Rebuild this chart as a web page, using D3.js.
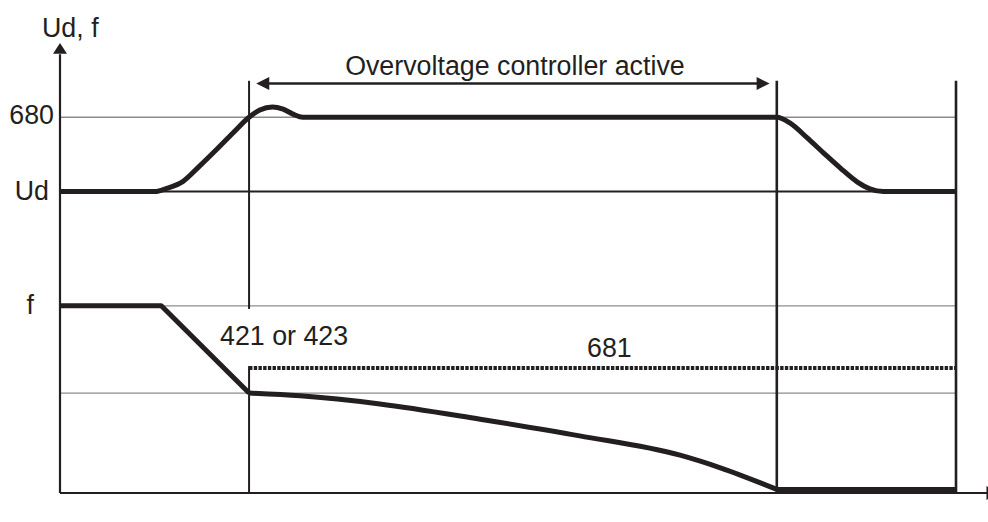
<!DOCTYPE html>
<html>
<head>
<meta charset="utf-8">
<script src="https://cdn.jsdelivr.net/npm/d3@7"></script>
<style>
  html, body { margin: 0; padding: 0; background: #fff; }
  svg { display: block; }
  text { font-family: "Liberation Sans", Arial, Helvetica, sans-serif; fill: #231f20; }
</style>
</head>
<body>
<svg id="chart" width="988" height="522"></svg>
<script>
// ---- data (abstract time / level units) ----
const udTime  = [0, 10.6, 11.9, 13.7, 15.6, 17.5, 19.3, 21.1, 22.3, 23.7, 24.9, 26.0, 27.1, 80, 81.5, 83.4, 85.2, 87.1, 89.0, 90.4, 91.9, 100];
const udValue = [67, 67, 67.7, 69.2, 72.7, 76.4, 80, 83.5, 85.1, 85.8, 85.3, 84.2, 83.5, 83.5, 82.2, 78.9, 75.6, 72.2, 69.1, 67.6, 67, 67];

const fTime  = [0, 11.3, 21.1, 26.8, 35.7, 46.9, 58.0, 69.2, 73.7, 80, 100];
const fValue = [41.6, 41.6, 22.2, 21.6, 19.8, 16.4, 12.7, 8.4, 5.6, 0.8, 0.8];

const levels = { p680: 83.5, ud: 67, f: 41.6, low: 22.2, p681: 27.8 };
const markerTimes = [21.1, 80, 100];
const activeSpan = [21.9, 79.2];
const yLabels = ["680", "Ud", "f"];
const axisTitle = "Ud, f";
const annotations = ["Overvoltage controller active", "421 or 423", "681"];

// ---- drawing ----
const ink = "#231f20", grey = "#8c8c8c";
const svg = d3.select("#chart");
const x = d3.scaleLinear().domain([0, 100]).range([60, 956]);
const y = d3.scaleLinear().domain([0, 100]).range([493, 43]);

function hline(v, t0, t1, color, w, dash) {
  const l = svg.append("line")
    .attr("x1", x(t0)).attr("x2", x(t1))
    .attr("y1", y(v)).attr("y2", y(v))
    .attr("stroke", color).attr("stroke-width", w);
  if (dash) l.attr("stroke-dasharray", dash);
  return l;
}
function vline(t, v0, v1, w) {
  return svg.append("line")
    .attr("x1", x(t)).attr("x2", x(t))
    .attr("y1", y(v0)).attr("y2", y(v1))
    .attr("stroke", ink).attr("stroke-width", w);
}

// reference lines
hline(levels.p680, 0, 100, grey, 1.3);
hline(levels.f, 0, 100, grey, 1.3);
hline(levels.low, 0, 100, grey, 1.3);
hline(levels.ud, 0, 100, ink, 2.2);

// dotted 681 level
hline(levels.p681, 21.1, 100, ink, 4, "3.4,1.3");

// vertical markers
vline(markerTimes[0], 91.6, 40.9, 2);
vline(markerTimes[0], levels.p681 + 0.4, 0, 2);
vline(markerTimes[1], 91.6, 0, 2.6);
vline(markerTimes[2], 91.6, 0, 2.6);

// axes
vline(0, 0, 97.5, 2.2);
svg.append("path")
  .attr("d", `M${x(0)},${y(100)} L${x(0) - 7},${y(97.6)} L${x(0) + 7},${y(97.6)} Z`)
  .attr("fill", ink);
hline(0, 0, 103.5, ink, 2.2);
svg.append("path")
  .attr("d", `M${x(104.7)},${y(0)} L${x(103.4)},${y(0) - 7} L${x(103.4)},${y(0) + 7} Z`)
  .attr("fill", ink);

// curves
function drawCurve(times, values, curve) {
  const gen = d3.line().x(d => x(d[0])).y(d => y(d[1])).curve(curve);
  svg.append("path")
    .datum(times.map((t, i) => [t, values[i]]))
    .attr("d", gen)
    .attr("fill", "none").attr("stroke", ink).attr("stroke-width", 5)
    .attr("stroke-linejoin", "round").attr("stroke-linecap", "butt");
}
drawCurve(udTime, udValue, d3.curveMonotoneX);
// f: straight ramp, smooth decay, flat end
drawCurve(fTime.slice(0, 3), fValue.slice(0, 3), d3.curveLinear);
drawCurve(fTime.slice(2, 10), fValue.slice(2, 10), d3.curveMonotoneX);
drawCurve(fTime.slice(9), fValue.slice(9), d3.curveLinear);

// double arrow
const ay = y(91.0);
hline(91.0, activeSpan[0] + 1.0, activeSpan[1] - 1.0, ink, 2.6);
svg.append("path")
  .attr("d", `M${x(activeSpan[0])},${ay} L${x(activeSpan[0]) + 13},${ay - 6.5} L${x(activeSpan[0]) + 13},${ay + 6.5} Z`)
  .attr("fill", ink);
svg.append("path")
  .attr("d", `M${x(activeSpan[1])},${ay} L${x(activeSpan[1]) - 13},${ay - 6.5} L${x(activeSpan[1]) - 13},${ay + 6.5} Z`)
  .attr("fill", ink);

// texts
const fs = 26.8;
svg.append("text").attr("x", 42).attr("y", 37).attr("font-size", fs).text(axisTitle);
const yLabelLevels = [levels.p680, levels.ud, levels.f];
const yLabelRight = [54, 49, 34];
const yLabelDy = [6.5, 8, 8];
yLabels.forEach((s, i) => {
  svg.append("text")
    .attr("x", yLabelRight[i]).attr("y", y(yLabelLevels[i]) + yLabelDy[i])
    .attr("text-anchor", "end").attr("font-size", fs).text(s);
});
svg.append("text").attr("x", x((activeSpan[0] + activeSpan[1]) / 2) + 2).attr("y", 75)
  .attr("text-anchor", "middle").attr("font-size", fs).text(annotations[0]);
svg.append("text").attr("x", 220).attr("y", 345).attr("font-size", fs).text(annotations[1]);
svg.append("text").attr("x", 587).attr("y", 357).attr("font-size", fs).text(annotations[2]);
</script>
</body>
</html>
